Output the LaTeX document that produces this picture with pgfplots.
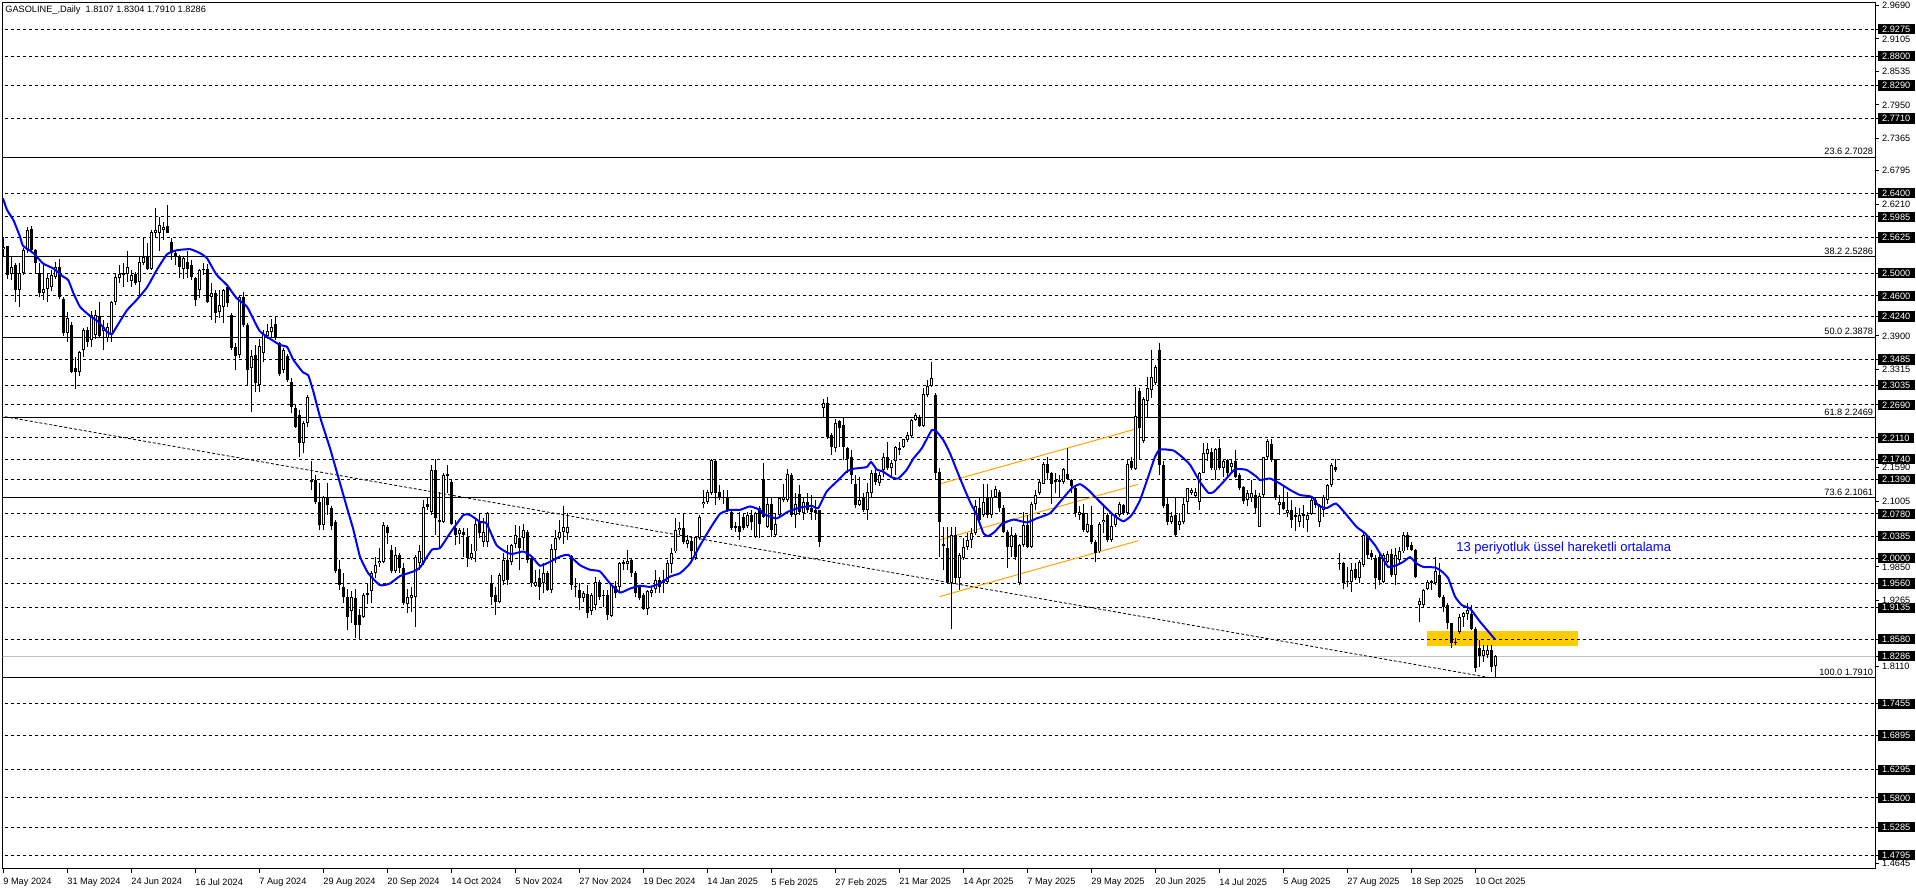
\documentclass[border=0pt]{standalone}
\usepackage{fontspec}
\setmainfont{Liberation Sans}
\usepackage{pgfplots}
\usepackage{pgfplotstable}
\pgfplotsset{compat=1.18}
\definecolor{mtgold}{RGB}{255,204,0}
\definecolor{mtorange}{RGB}{255,165,0}
\definecolor{mtgray}{RGB}{192,192,192}
\definecolor{mtblue}{RGB}{0,0,255}
\newcommand\mtfont{\fontsize{4.6}{5.5}\selectfont}
\pgfplotsset{candle/.style={only marks, mark=*, mark size=0.01pt,
  mark options={draw opacity=0, fill opacity=0},
  error bars/.cd, y dir=plus, y explicit, error mark=none}}

% daily candles, bar index i (0 = 9 May 2024)
\pgfplotstableread{
i o h l c
0 2.542 2.563 2.528 2.546
1 2.547 2.548 2.490 2.497
2 2.498 2.529 2.488 2.511
3 2.514 2.518 2.450 2.470
4 2.470 2.517 2.441 2.500
5 2.500 2.544 2.497 2.540
6 2.540 2.580 2.535 2.575
7 2.578 2.582 2.535 2.540
8 2.540 2.543 2.500 2.517
9 2.500 2.517 2.459 2.466
10 2.466 2.514 2.453 2.472
11 2.473 2.500 2.450 2.491
12 2.475 2.505 2.468 2.497
13 2.494 2.519 2.490 2.511
14 2.511 2.525 2.455 2.459
15 2.455 2.458 2.390 2.395
16 2.395 2.432 2.380 2.421
17 2.409 2.415 2.325 2.327
18 2.333 2.353 2.296 2.326
19 2.327 2.363 2.320 2.362
20 2.365 2.403 2.353 2.400
21 2.401 2.406 2.371 2.380
22 2.383 2.433 2.371 2.427
23 2.391 2.435 2.385 2.427
24 2.424 2.450 2.386 2.389
25 2.398 2.418 2.365 2.406
26 2.386 2.412 2.380 2.406
27 2.392 2.452 2.380 2.450
28 2.450 2.498 2.445 2.494
29 2.491 2.514 2.482 2.499
30 2.501 2.517 2.476 2.497
31 2.499 2.538 2.485 2.510
32 2.487 2.505 2.476 2.496
33 2.498 2.502 2.479 2.482
34 2.485 2.530 2.460 2.520
35 2.517 2.561 2.515 2.529
36 2.529 2.552 2.505 2.508
37 2.508 2.576 2.505 2.572
38 2.571 2.614 2.561 2.576
39 2.571 2.599 2.538 2.584
40 2.576 2.590 2.558 2.581
41 2.582 2.619 2.570 2.571
42 2.555 2.561 2.523 2.535
43 2.535 2.541 2.514 2.529
44 2.530 2.532 2.491 2.510
45 2.507 2.528 2.489 2.526
46 2.520 2.538 2.491 2.508
47 2.514 2.523 2.488 2.494
48 2.491 2.494 2.442 2.453
49 2.470 2.508 2.456 2.505
50 2.505 2.517 2.497 2.508
51 2.508 2.516 2.447 2.450
52 2.459 2.482 2.418 2.465
53 2.465 2.470 2.412 2.430
54 2.432 2.470 2.421 2.444
55 2.441 2.473 2.412 2.471
56 2.476 2.478 2.440 2.447
57 2.427 2.430 2.365 2.368
58 2.370 2.377 2.330 2.354
59 2.357 2.462 2.351 2.459
60 2.459 2.467 2.406 2.409
61 2.409 2.412 2.304 2.330
62 2.333 2.365 2.256 2.354
63 2.357 2.374 2.292 2.307
64 2.304 2.385 2.292 2.372
65 2.360 2.400 2.345 2.394
66 2.389 2.410 2.385 2.398
67 2.396 2.420 2.388 2.405
68 2.410 2.425 2.383 2.386
69 2.378 2.380 2.320 2.324
70 2.330 2.368 2.325 2.365
71 2.354 2.358 2.310 2.313
72 2.310 2.316 2.254 2.266
73 2.263 2.269 2.228 2.231
74 2.251 2.260 2.178 2.202
75 2.202 2.240 2.184 2.237
76 2.237 2.286 2.231 2.283
77 2.134 2.170 2.120 2.137
78 2.137 2.146 2.096 2.099
79 2.099 2.132 2.050 2.058
80 2.058 2.110 2.050 2.108
81 2.108 2.132 2.076 2.094
82 2.088 2.091 2.050 2.056
83 2.064 2.067 1.975 1.977
84 1.981 1.997 1.945 1.953
85 1.950 1.974 1.921 1.933
86 1.933 1.947 1.875 1.898
87 1.907 1.942 1.886 1.933
88 1.930 1.947 1.860 1.883
89 1.901 1.912 1.857 1.883
90 1.898 1.939 1.895 1.936
91 1.936 1.956 1.920 1.939
92 1.942 1.977 1.921 1.974
93 1.974 2.003 1.965 1.988
94 1.991 2.018 1.985 1.995
95 1.994 2.064 1.991 2.058
96 2.055 2.058 2.026 2.044
97 2.015 2.024 1.974 1.977
98 1.977 2.020 1.974 2.006
99 2.006 2.009 1.974 1.983
100 1.983 1.991 1.918 1.921
101 1.920 1.947 1.904 1.933
102 1.930 1.950 1.906 1.936
103 1.933 2.006 1.880 2.003
104 1.991 2.023 1.980 2.012
105 1.991 2.102 1.988 2.090
106 2.096 2.105 2.084 2.090
107 2.082 2.164 2.076 2.155
108 2.155 2.174 2.041 2.070
109 2.068 2.117 2.020 2.064
110 2.063 2.149 2.062 2.146
111 2.145 2.164 2.114 2.147
112 2.134 2.137 2.058 2.061
113 2.053 2.067 2.023 2.041
114 2.043 2.053 2.026 2.050
115 2.047 2.053 2.003 2.041
116 2.038 2.053 1.985 2.000
117 2.000 2.026 1.997 2.009
118 2.012 2.067 1.994 2.061
119 2.064 2.079 2.035 2.044
120 2.029 2.070 2.020 2.047
121 2.029 2.082 2.020 2.079
122 1.956 1.971 1.918 1.933
123 1.936 1.950 1.901 1.924
124 1.924 1.974 1.921 1.971
125 1.960 2.009 1.953 1.997
126 1.997 2.023 1.953 1.962
127 1.994 2.026 1.988 2.023
128 2.026 2.058 2.018 2.041
129 2.035 2.056 1.980 2.018
130 2.035 2.061 2.015 2.050
131 2.047 2.050 1.991 1.997
132 2.000 2.003 1.950 1.956
133 1.952 1.980 1.950 1.959
134 1.965 1.982 1.927 1.950
135 1.956 1.991 1.939 1.975
136 1.975 1.977 1.942 1.945
137 1.945 2.026 1.939 2.016
138 2.015 2.050 1.991 2.035
139 2.035 2.067 2.032 2.047
140 2.047 2.091 2.026 2.055
141 2.045 2.079 2.032 2.055
142 2.004 2.006 1.945 1.953
143 1.952 1.965 1.933 1.949
144 1.945 1.956 1.910 1.930
145 1.930 1.942 1.924 1.939
146 1.937 1.953 1.895 1.905
147 1.907 1.939 1.901 1.936
148 1.918 1.968 1.909 1.959
149 1.959 1.962 1.927 1.933
150 1.936 1.945 1.915 1.934
151 1.936 1.945 1.892 1.901
152 1.899 1.956 1.898 1.953
153 1.951 1.960 1.930 1.939
154 1.950 1.993 1.939 1.991
155 1.990 1.997 1.980 1.993
156 1.990 2.015 1.980 1.996
157 1.997 2.000 1.968 1.974
158 1.974 1.977 1.933 1.939
159 1.950 1.953 1.927 1.930
160 1.936 1.939 1.909 1.912
161 1.912 1.945 1.901 1.942
162 1.939 1.950 1.933 1.945
163 1.946 1.980 1.939 1.962
164 1.962 1.968 1.939 1.949
165 1.956 1.980 1.939 1.962
166 1.959 1.997 1.956 1.991
167 1.990 2.018 1.974 2.009
168 2.012 2.070 2.009 2.050
169 2.050 2.063 2.041 2.054
170 2.054 2.079 2.026 2.029
171 2.026 2.041 2.018 2.032
172 2.031 2.038 1.997 2.012
173 2.000 2.040 1.997 2.038
174 2.035 2.076 2.032 2.072
175 2.095 2.120 2.088 2.099
176 2.099 2.120 2.096 2.116
177 2.114 2.174 2.111 2.172
178 2.170 2.174 2.094 2.114
179 2.116 2.129 2.102 2.107
180 2.108 2.120 2.095 2.105
181 2.105 2.120 2.082 2.085
182 2.082 2.085 2.050 2.053
183 2.056 2.064 2.047 2.053
184 2.056 2.082 2.032 2.047
185 2.073 2.079 2.050 2.054
186 2.056 2.082 2.053 2.076
187 2.076 2.085 2.050 2.063
188 2.038 2.082 2.035 2.079
189 2.088 2.091 2.035 2.061
190 2.139 2.168 2.070 2.073
191 2.055 2.105 2.053 2.096
192 2.096 2.105 2.038 2.050
193 2.041 2.079 2.038 2.061
194 2.076 2.108 2.073 2.105
195 2.102 2.130 2.099 2.108
196 2.102 2.156 2.099 2.148
197 2.146 2.149 2.073 2.076
198 2.076 2.114 2.053 2.096
199 2.112 2.129 2.076 2.082
200 2.079 2.105 2.067 2.099
201 2.099 2.114 2.079 2.085
202 2.088 2.111 2.067 2.082
203 2.085 2.102 2.067 2.079
204 2.084 2.085 2.020 2.029
205 2.263 2.279 2.248 2.273
206 2.273 2.283 2.209 2.213
207 2.216 2.219 2.181 2.196
208 2.193 2.244 2.187 2.238
209 2.240 2.243 2.196 2.228
210 2.234 2.248 2.172 2.196
211 2.193 2.196 2.149 2.174
212 2.178 2.190 2.130 2.146
213 2.131 2.146 2.088 2.094
214 2.094 2.143 2.092 2.102
215 2.105 2.114 2.082 2.084
216 2.084 2.132 2.068 2.116
217 2.114 2.155 2.108 2.149
218 2.149 2.158 2.129 2.134
219 2.132 2.152 2.126 2.146
220 2.155 2.184 2.143 2.177
221 2.177 2.204 2.155 2.158
222 2.158 2.172 2.143 2.168
223 2.170 2.197 2.146 2.195
224 2.193 2.204 2.181 2.190
225 2.195 2.210 2.193 2.209
226 2.207 2.222 2.204 2.216
227 2.214 2.244 2.213 2.243
228 2.243 2.254 2.240 2.251
229 2.248 2.251 2.231 2.232
230 2.232 2.298 2.231 2.288
231 2.286 2.313 2.283 2.302
232 2.302 2.345 2.301 2.317
233 2.286 2.289 2.139 2.150
234 2.152 2.158 2.003 2.063
235 2.025 2.055 1.980 2.022
236 2.018 2.055 1.956 1.959
237 1.956 2.055 1.877 2.041
238 2.041 2.055 1.956 1.965
239 1.965 2.010 1.945 2.006
240 2.000 2.035 1.997 2.020
241 2.020 2.044 2.015 2.033
242 2.033 2.053 2.018 2.044
243 2.044 2.102 2.041 2.091
244 2.088 2.105 2.058 2.067
245 2.076 2.131 2.073 2.099
246 2.107 2.131 2.070 2.076
247 2.076 2.120 2.070 2.107
248 2.108 2.127 2.105 2.121
249 2.117 2.120 2.082 2.088
250 2.089 2.093 2.044 2.047
251 2.047 2.050 1.983 2.020
252 2.020 2.055 2.003 2.041
253 2.041 2.044 1.997 2.003
254 1.956 2.026 1.953 2.023
255 2.023 2.082 2.020 2.058
256 2.058 2.076 2.018 2.020
257 2.020 2.099 2.018 2.096
258 2.096 2.120 2.085 2.111
259 2.115 2.137 2.111 2.134
260 2.131 2.169 2.130 2.166
261 2.166 2.178 2.137 2.149
262 2.150 2.152 2.095 2.131
263 2.138 2.149 2.114 2.134
264 2.134 2.146 2.108 2.137
265 2.134 2.158 2.131 2.156
266 2.148 2.193 2.137 2.139
267 2.137 2.139 2.114 2.126
268 2.124 2.128 2.072 2.080
269 2.076 2.091 2.067 2.082
270 2.080 2.095 2.047 2.050
271 2.047 2.079 2.044 2.060
272 2.058 2.091 2.026 2.029
273 2.029 2.032 1.994 2.010
274 2.012 2.064 2.010 2.061
275 2.063 2.091 2.044 2.068
276 2.076 2.079 2.029 2.032
277 2.032 2.079 2.029 2.057
278 2.058 2.079 2.055 2.076
279 2.076 2.099 2.073 2.095
280 2.093 2.096 2.076 2.079
281 2.079 2.172 2.076 2.165
282 2.170 2.178 2.155 2.158
283 2.156 2.301 2.155 2.250
284 2.294 2.298 2.175 2.228
285 2.205 2.282 2.202 2.279
286 2.275 2.318 2.248 2.298
287 2.295 2.365 2.281 2.318
288 2.307 2.339 2.304 2.335
289 2.366 2.377 2.146 2.164
290 2.164 2.170 2.088 2.091
291 2.095 2.105 2.058 2.064
292 2.064 2.082 2.061 2.074
293 2.076 2.105 2.038 2.041
294 2.059 2.079 2.050 2.066
295 2.063 2.105 2.061 2.096
296 2.099 2.124 2.079 2.123
297 2.114 2.123 2.111 2.120
298 2.109 2.123 2.105 2.117
299 2.098 2.152 2.085 2.150
300 2.150 2.202 2.149 2.184
301 2.183 2.202 2.170 2.191
302 2.187 2.193 2.155 2.158
303 2.154 2.193 2.137 2.191
304 2.193 2.210 2.155 2.158
305 2.158 2.175 2.143 2.170
306 2.172 2.175 2.143 2.149
307 2.160 2.172 2.152 2.168
308 2.170 2.190 2.140 2.143
309 2.146 2.149 2.119 2.123
310 2.125 2.127 2.096 2.101
311 2.102 2.120 2.091 2.114
312 2.105 2.137 2.098 2.115
313 2.111 2.120 2.079 2.088
314 2.055 2.114 2.055 2.109
315 2.111 2.178 2.108 2.177
316 2.177 2.210 2.175 2.206
317 2.201 2.210 2.169 2.172
318 2.174 2.175 2.102 2.108
319 2.094 2.111 2.076 2.099
320 2.099 2.126 2.085 2.086
321 2.080 2.117 2.073 2.085
322 2.085 2.102 2.053 2.068
323 2.076 2.090 2.048 2.072
324 2.064 2.088 2.055 2.076
325 2.074 2.093 2.053 2.077
326 2.067 2.082 2.047 2.076
327 2.078 2.109 2.076 2.102
328 2.103 2.108 2.088 2.093
329 2.064 2.096 2.055 2.093
330 2.085 2.111 2.073 2.108
331 2.102 2.131 2.096 2.128
332 2.128 2.167 2.125 2.164
333 2.161 2.174 2.152 2.155
334 1.992 2.009 1.980 1.990
335 1.992 1.994 1.947 1.956
336 1.960 1.985 1.950 1.958
337 1.958 1.991 1.941 1.979
338 1.982 1.991 1.962 1.965
339 1.965 1.997 1.956 1.994
340 1.988 2.044 1.985 2.041
341 2.039 2.041 2.000 2.006
342 2.009 2.015 1.997 2.003
343 2.001 2.006 1.947 1.965
344 2.003 2.009 1.953 1.962
345 1.959 2.009 1.956 2.006
346 1.994 2.012 1.991 2.007
347 2.007 2.017 1.968 1.971
348 1.971 2.018 1.953 2.006
349 1.997 2.020 1.991 2.012
350 2.012 2.047 2.009 2.041
351 2.041 2.047 2.015 2.020
352 2.023 2.029 2.012 2.015
353 2.015 2.017 1.965 1.968
354 1.918 1.931 1.889 1.925
355 1.918 1.947 1.915 1.944
356 1.947 1.962 1.944 1.959
357 1.960 1.962 1.944 1.957
358 1.956 2.003 1.953 1.977
359 1.971 1.991 1.930 1.933
360 1.933 1.936 1.906 1.915
361 1.918 1.921 1.877 1.886
362 1.886 1.887 1.842 1.851
363 1.851 1.860 1.848 1.854
364 1.871 1.903 1.868 1.897
365 1.897 1.906 1.880 1.905
366 1.902 1.921 1.892 1.909
367 1.903 1.918 1.874 1.877
368 1.877 1.880 1.801 1.807
369 1.842 1.857 1.810 1.828
370 1.828 1.848 1.819 1.839
371 1.831 1.848 1.825 1.839
372 1.839 1.848 1.801 1.810
373 1.8107 1.8304 1.7910 1.8286
}\ohlc

\begin{document}
\begin{tikzpicture}
\begin{axis}[
  name=ax, at={(0,0)}, anchor=south west,
  scale only axis, width=936.25pt, height=433.15pt,
  xmin=-0.125, xmax=468, ymin=1.4554, ymax=2.9741,
  axis line style={line width=0.5pt},
  tick align=outside, major tick length=2pt,
  tick style={black, line width=0.5pt},
  xtick pos=bottom, ytick pos=right, yticklabel pos=right,
  scaled y ticks=false,
  /pgf/number format/fixed, /pgf/number format/fixed zerofill,
  /pgf/number format/precision=4, /pgf/number format/assume math mode=true,
  xtick={0,16,...,368},
  xticklabels={9 May 2024,31 May 2024,24 Jun 2024,16 Jul 2024,7 Aug 2024,29 Aug 2024,20 Sep 2024,14 Oct 2024,5 Nov 2024,27 Nov 2024,19 Dec 2024,14 Jan 2025,5 Feb 2025,27 Feb 2025,21 Mar 2025,14 Apr 2025,7 May 2025,29 May 2025,20 Jun 2025,14 Jul 2025,5 Aug 2025,27 Aug 2025,18 Sep 2025,10 Oct 2025},
  xticklabel style={anchor=north west, inner sep=0pt, yshift=-2.5pt, font=\mtfont},
  ytick={2.9690,2.9105,2.8535,2.7950,2.7365,2.6795,2.6210,2.3900,2.3315,2.1590,2.1005,1.9850,1.9265,1.8110,1.4645},
  yticklabel style={anchor=west, inner sep=0pt, xshift=1.35pt, font=\mtfont},
  extra y ticks={2.9275,2.8800,2.8290,2.7710,2.6400,2.5985,2.5625,2.5000,2.4600,2.4240,2.3485,2.3035,2.2690,2.2110,2.1740,2.1390,2.0780,2.0385,2.0000,1.9560,1.9135,1.8580,1.8286,1.7455,1.6895,1.6295,1.5800,1.5285,1.4795},
  extra y tick style={yticklabel style={fill=black, text=white, inner xsep=2.2pt, inner ysep=0.9pt, xshift=-2.2pt}},
]
% zone
\addplot[draw=none, fill=mtgold] coordinates {(356,1.8469) (393.75,1.8469) (393.75,1.8726) (356,1.8726)} -- cycle;

% level lines
\pgfplotsinvokeforeach{2.9275,2.8800,2.8290,2.7710,2.6400,2.5985,2.5625,2.5000,2.4600,2.4240,2.3485,2.3035,2.2690,2.2110,2.1740,2.1390,2.0780,2.0385,2.0000,1.9560,1.9135,1.8580,1.7455,1.6895,1.6295,1.5800,1.5285,1.4795}{
  \addplot[black, line width=0.5pt, dash pattern=on 1.5pt off 1.5pt] coordinates {(-1,#1) (470,#1)};
}
% fibonacci levels
\pgfplotsinvokeforeach{2.7028,2.5286,2.3878,2.2469,2.1061,1.7910}{
  \addplot[black, line width=0.5pt] coordinates {(-1,#1) (470,#1)};
}
\addplot[mtgray, line width=0.5pt] coordinates {(-1,1.8286) (470,1.8286)};

% trend line and channel
\addplot[black, line width=0.4pt, dash pattern=on 1.5pt off 1pt] coordinates {(0.5,2.2483) (371.75,1.7908)};
\addplot[mtorange, line width=0.5pt] coordinates {(234.1,2.1303) (283.8,2.2280)};
\addplot[mtorange, line width=0.5pt] coordinates {(234.1,2.0322) (283.8,2.1298)};
\addplot[mtorange, line width=0.5pt] coordinates {(234.1,1.9328) (283.8,2.0309)};

% candles: wicks, bodies, hollow inside of up candles
\addplot[candle, error bar style={black, line width=0.5pt}]
  table[x=i, y=l, y error plus expr={\thisrow{h}-\thisrow{l}}] {\ohlc};
\addplot[candle, error bar style={black, line width=1.5pt}]
  table[x=i, y expr={min(\thisrow{o},\thisrow{c})}, y error plus expr={max(abs(\thisrow{c}-\thisrow{o}),0.0018)}] {\ohlc};
\addplot[candle, error bar style={white, line width=0.5pt}]
  table[x=i, y expr={\thisrow{o}+0.00175}, y error plus expr={max(\thisrow{c}-\thisrow{o}-0.0035,0)}] {\ohlc};

% 13-period EMA
\addplot[mtblue, line width=1pt, smooth, tension=0.3] coordinates {
(0,2.631)(1,2.611)(2.6,2.593)(4.25,2.564)(5,2.548)(7.6,2.535)(10,2.517)(12.6,2.508)(15,2.494)(16.3,2.488)(17.6,2.465)(19.25,2.441)(21.75,2.425)(23.8,2.415)(26,2.397)(27.2,2.393)(28.4,2.406)(31,2.435)(33.4,2.453)(36,2.475)(38.4,2.505)(41,2.533)(43.4,2.540)(46.75,2.542)(49.25,2.535)(51,2.526)(53.4,2.497)(56,2.479)(58.4,2.456)(61,2.441)(64.25,2.398)(69.25,2.374)(71,2.371)(72.6,2.348)(75,2.326)(76.3,2.321)(77.6,2.292)(79.25,2.248)(81.75,2.193)(83.8,2.143)(85.9,2.091)(87.6,2.050)(89.25,2.003)(91.3,1.974)(94.25,1.953)(96.75,1.956)(99.25,1.969)(102.6,1.977)(104.25,1.984)(107.2,2.015)(109.25,2.018)(111.75,2.044)(115.1,2.076)(116.75,2.076)(119.25,2.064)(120.9,2.061)(123.4,2.023)(126.3,2.009)(127.6,2.008)(130.1,2.012)(132.2,2.003)(134.25,1.987)(136.75,1.994)(139.25,2.003)(141.3,2.006)(144.25,1.988)(146.75,1.980)(149.25,1.977)(151.75,1.956)(154.25,1.940)(156.75,1.947)(159.25,1.952)(161.75,1.950)(164.25,1.956)(166.75,1.968)(169.25,1.974)(171.75,1.991)(174.2,2.022)(176.75,2.052)(179.25,2.078)(181.75,2.085)(184.25,2.085)(186.75,2.091)(189.25,2.085)(190.1,2.078)(193.4,2.070)(196.3,2.082)(199.25,2.089)(202.2,2.092)(203.8,2.088)(205.9,2.117)(208.8,2.137)(210.9,2.152)(212.6,2.157)(215.9,2.160)(217,2.169)(218.4,2.156)(220,2.152)(222.2,2.142)(223.8,2.140)(225.9,2.155)(227.6,2.175)(229.7,2.193)(232.2,2.225)(233.4,2.222)(235.1,2.207)(236.75,2.184)(238.4,2.155)(240.1,2.126)(241.75,2.099)(243.4,2.076)(245.1,2.044)(246.3,2.039)(248,2.047)(249.7,2.060)(252.6,2.068)(255.9,2.063)(258.4,2.070)(261.75,2.079)(264.25,2.099)(267.2,2.123)(269.25,2.130)(271.3,2.120)(274.25,2.099)(277.6,2.076)(280.1,2.065)(282.2,2.076)(284.25,2.102)(286.3,2.143)(288,2.178)(289.25,2.191)(292.6,2.189)(294.7,2.178)(296.75,2.164)(299.25,2.134)(301.3,2.115)(302.6,2.116)(305.1,2.134)(308,2.156)(310.9,2.155)(313.4,2.143)(314.25,2.137)(316.75,2.140)(319.25,2.131)(321.75,2.120)(324.25,2.111)(327.2,2.108)(328.8,2.093)(330.9,2.088)(333.25,2.096)(335.9,2.076)(338.4,2.055)(340.5,2.044)(343,2.023)(344.7,2.003)(346.3,1.985)(348.4,1.988)(350.1,1.994)(351.75,2.002)(353.4,1.991)(355.1,1.985)(358,1.984)(359.7,1.977)(361.3,1.965)(363,1.933)(364.7,1.918)(366.75,1.912)(369.25,1.889)(373,1.858)
};

% labels
\node[anchor=base east, inner sep=0pt, yshift=1.25pt, font=\mtfont] at (axis cs:467.6,2.7028) {23.6 2.7028};
\node[anchor=base east, inner sep=0pt, yshift=1.25pt, font=\mtfont] at (axis cs:467.6,2.5286) {38.2 2.5286};
\node[anchor=base east, inner sep=0pt, yshift=1.25pt, font=\mtfont] at (axis cs:467.6,2.3878) {50.0 2.3878};
\node[anchor=base east, inner sep=0pt, yshift=1.25pt, font=\mtfont] at (axis cs:467.6,2.2469) {61.8 2.2469};
\node[anchor=base east, inner sep=0pt, yshift=1.25pt, font=\mtfont] at (axis cs:467.6,2.1061) {73.6 2.1061};
\node[anchor=base east, inner sep=0pt, yshift=1.25pt, font=\mtfont] at (axis cs:467.6,1.7910) {100.0 1.7910};
\node[anchor=west, inner sep=0pt, text=mtblue, font=\fontsize{6.5}{7.5}\selectfont] at (axis cs:363.25,2.0187) {13 periyotluk üssel hareketli ortalama};
\end{axis}
\node[anchor=north west, inner sep=0pt, font=\mtfont] at ([xshift=1.25pt,yshift=-1.15pt]ax.north west) {GASOLINE\_,Daily\ \ 1.8107 1.8304 1.7910 1.8286};
\pgfresetboundingbox
\useasboundingbox ([xshift=-1.25pt,yshift=-9.5pt]ax.south west) rectangle ([xshift=20.5pt,yshift=1.35pt]ax.north east);
\end{tikzpicture}
\end{document}
